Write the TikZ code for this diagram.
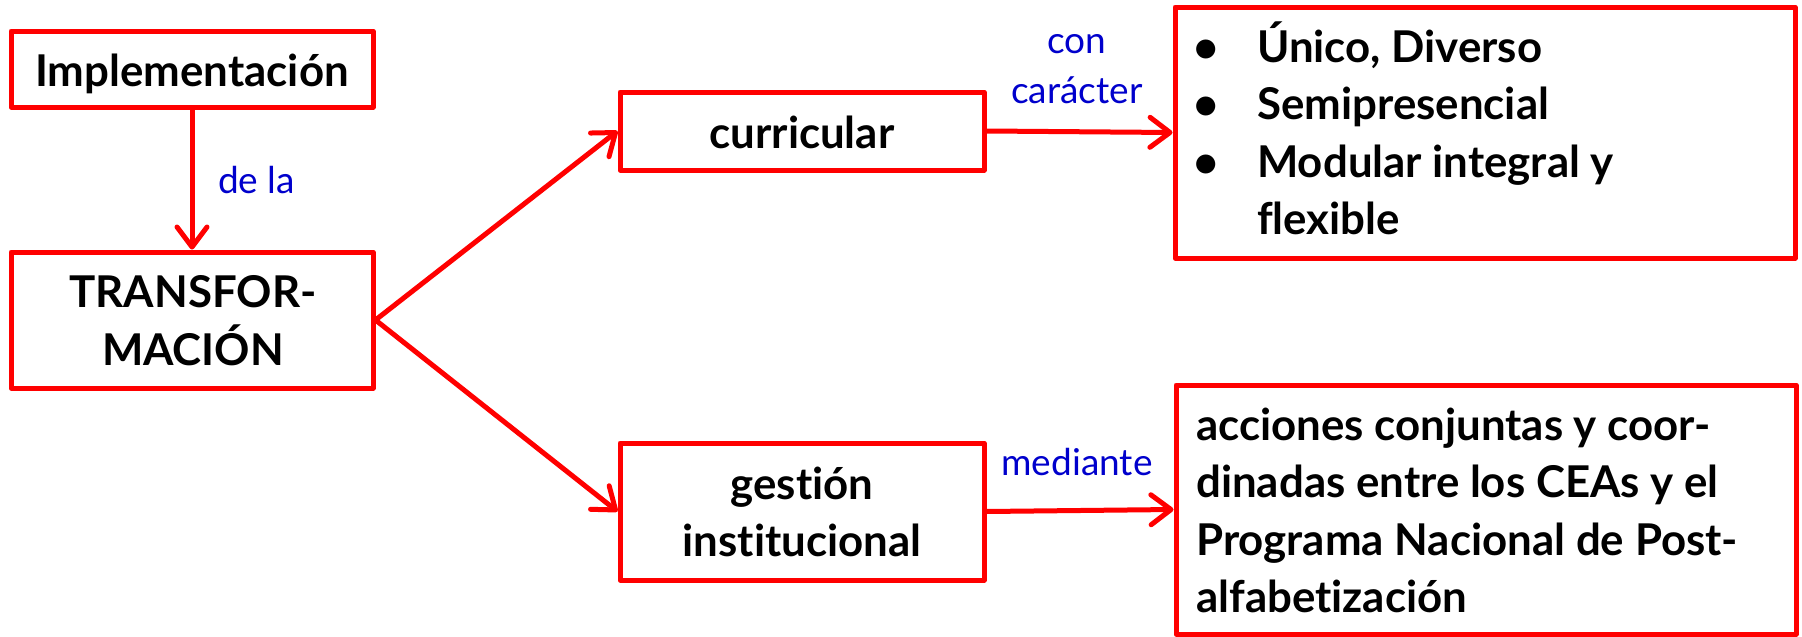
\documentclass[tikz,border=0pt]{standalone}
\usepackage{fontspec}
\setmainfont{Lato}[Ligatures={NoCommon,NoDiscretionary}]
\usetikzlibrary{arrows.meta}
\definecolor{boxred}{RGB}{255,0,0}
\definecolor{lblblue}{RGB}{0,0,204}
\begin{document}
\begin{tikzpicture}[x=1pt,y=-1pt,
  frame/.style={draw=boxred,line width=5pt,line join=round,inner sep=0pt,rectangle,fill=white},
  conn/.style={draw=boxred,line width=5pt,line cap=round,
    -{Straight Barb[length=20pt,width=30pt,line cap=round,line join=round]}},
  boxtext/.style={inner sep=0pt,anchor=base,font=\fontsize{43.8}{57.5}\selectfont\bfseries},
  lbl/.style={inner sep=0pt,anchor=base,text=lblblue,font=\fontsize{37}{50}\selectfont}]
\useasboundingbox (0,0) rectangle (1802,637);
% boxes
\node[frame,minimum width=362pt,minimum height=76pt] (impl) at (192,69) {};
\node[frame,minimum width=362pt,minimum height=136pt] (transf) at (192,320) {};
\node[frame,minimum width=364pt,minimum height=78pt] (curr) at (802,131) {};
\node[frame,minimum width=364pt,minimum height=137pt] (gest) at (802,511.5) {};
\node[frame,minimum width=620pt,minimum height=251pt] (topr) at (1485,132.5) {};
\node[frame,minimum width=620pt,minimum height=249pt] (botr) at (1486,509.5) {};
% texts
\node[boxtext] (timpl) at (192,86) {Implementación};
\node[boxtext] (ttransf) at (193,307) {\begin{tabular}[t]{@{}c@{}}TRANSFOR-\\MACIÓN\end{tabular}};
\node[boxtext] (tcurr) at (802,148) {curricular};
\node[boxtext] (tgest) at (802,499) {\begin{tabular}[t]{@{}c@{}}gestión\\institucional\end{tabular}};
\node[boxtext,anchor=base west] (ttopr) at (1193,62) {\begin{tabular}[t]{@{}p{64pt}@{}l@{}}•&Único, Diverso\\•&Semipresencial\\•&Modular integral y\\&flexible\end{tabular}};
\node[boxtext,anchor=base west] (tbotr) at (1196,440) {\begin{tabular}[t]{@{}l@{}}acciones conjuntas y coor-\\dinadas entre los CEAs y el\\Programa Nacional de Post-\\alfabetización\end{tabular}};
% connectors
\draw[conn] (impl.south) -- (transf.north);
\draw[conn] (transf.east) -- (curr.west);
\draw[conn] (transf.east) -- (gest.west);
\draw[conn] (curr.east) -- (topr.west);
\draw[conn] (gest.east) -- (botr.west);
% labels
\node[lbl,anchor=base west] (lde) at (218,193) {de la};
\node[lbl] (lcon) at (1077,53) {\begin{tabular}[t]{@{}c@{}}con\\carácter\end{tabular}};
\node[lbl] (lmed) at (1077,475) {mediante};
\end{tikzpicture}
\end{document}
